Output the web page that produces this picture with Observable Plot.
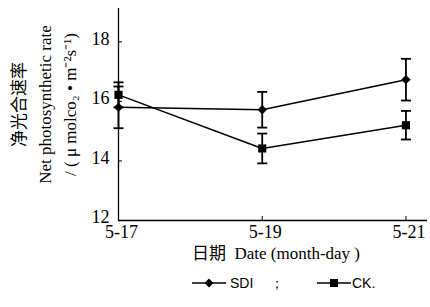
<!DOCTYPE html>
<html><head><meta charset="utf-8">
<script src="https://cdn.jsdelivr.net/npm/d3@7"></script>
<script src="https://cdn.jsdelivr.net/npm/@observablehq/plot@0.6"></script>
<style>
body{margin:0;background:#fff;width:430px;height:307px;overflow:hidden}
#legend{position:relative;height:39px;font-family:"Liberation Sans Narrow","Liberation Sans",sans-serif;font-size:14px;color:#000}
#legend span{position:absolute;top:7px;line-height:16px}
#legend svg{position:absolute;top:8px}
</style></head>
<body><div id="chart"></div><div id="legend"></div>
<script>
const dates = ["5-17", "5-19", "5-21"];
const dayNums = [17, 19, 21];
const sdiValues = [15.8, 15.72, 16.73];
const sdiErrors = [0.7, 0.6, 0.7];
const ckValues = [16.22, 14.42, 15.2];
const ckErrors = [0.42, 0.5, 0.48];
const yTicks = [12, 14, 16, 18];
const seriesNames = ["SDI", "CK."];
const yLabelLines = ["净光合速率", "Net photosynthetic rate", "/ ( μ molco₂ • m⁻²s⁻¹)"];
const xLabel = "日期  Date (month-day )";

const rows = [];
dayNums.forEach((d, i) => {
  rows.push({series: "SDI", day: d, v: sdiValues[i], e: sdiErrors[i]});
  rows.push({series: "CK", day: d, v: ckValues[i], e: ckErrors[i]});
});
const sdiRows = rows.filter(r => r.series === "SDI");
const ckRows = rows.filter(r => r.series === "CK");

const capSymbol = {draw(ctx, size) { const r = Math.sqrt(size / Math.PI); ctx.moveTo(-r, 0); ctx.lineTo(r, 0); }};
const font = "'Liberation Serif','Noto Sans CJK SC',serif";

const chart = Plot.plot({
  width: 430, height: 268,
  marginLeft: 118, marginRight: 3, marginTop: 8, marginBottom: 48,
  style: {fontFamily: font, fontSize: "17px", color: "#000", background: "#fff"},
  x: {domain: [17, 21.3]},
  y: {domain: [12, 19.12]},
  marks: [
    Plot.axisY({ticks: yTicks, tickSize: -4, tickFormat: () => "", label: null}),
    Plot.axisX({ticks: dayNums, tickSize: -4, tickFormat: () => "", label: null}),
    Plot.text(yTicks, {y: d => d, text: d => String(d), frameAnchor: "left", textAnchor: "end", dx: -9, dy: -3, fontSize: 18, fontFamily: font, fill: "#000"}),
    Plot.text(dayNums, {x: d => d, text: (d, i) => dates[i], frameAnchor: "bottom", lineAnchor: "top", dx: 3, dy: 5, fontSize: 18, fontFamily: font, fill: "#000"}),
    Plot.ruleX([17], {stroke: "#000", strokeWidth: 1.3}),
    Plot.ruleY([12], {stroke: "#000", strokeWidth: 1.3}),
    Plot.line(sdiRows, {x: "day", y: "v", stroke: "#000", strokeWidth: 1.5}),
    Plot.line(ckRows, {x: "day", y: "v", stroke: "#000", strokeWidth: 1.5}),
    Plot.ruleX(rows, {x: "day", y1: d => d.v - d.e, y2: d => d.v + d.e, stroke: "#000", strokeWidth: 1.8}),
    Plot.dot(rows, {x: "day", y: d => d.v + d.e, symbol: capSymbol, r: 5, stroke: "#000", strokeWidth: 1.8}),
    Plot.dot(rows, {x: "day", y: d => d.v - d.e, symbol: capSymbol, r: 5, stroke: "#000", strokeWidth: 1.8}),
    Plot.dot(sdiRows, {x: "day", y: "v", symbol: d3.symbolDiamond2, r: 4, fill: "#000", stroke: "#000", strokeWidth: 0.5}),
    Plot.dot(ckRows, {x: "day", y: "v", symbol: "square", r: 4.6, fill: "#000", stroke: "none"}),
    Plot.text([yLabelLines.join("\n")], {frameAnchor: "left", textAnchor: "middle", rotate: -90, dx: -76, dy: -10, lineHeight: 1.5, fontSize: 17, fontFamily: font, fill: "#000"}),
    Plot.text([xLabel], {frameAnchor: "bottom", dy: 38, dx: 3, fontSize: 17, fontFamily: font, fill: "#000"})
  ]
});
document.getElementById("chart").appendChild(chart);

// legend
const lg = document.getElementById("legend");
function glyph(x, type) {
  return `<svg width="34" height="14" style="left:${x}px" viewBox="0 0 34 14"><line x1="0" y1="7" x2="34" y2="7" stroke="#000" stroke-width="1.5"/>` +
    (type === "diamond" ? `<path d="M17 2.5 L21.5 7 L17 11.5 L12.5 7 Z" fill="#000"/>` : `<rect x="13" y="3" width="8" height="8" fill="#000"/>`) + `</svg>`;
}
lg.innerHTML = glyph(192, "diamond") + `<span style="left:230px">${seriesNames[0]}</span>` +
  `<span style="left:270px">；</span>` + glyph(317, "square") + `<span style="left:352px">${seriesNames[1]}</span>`;
</script></body></html>
